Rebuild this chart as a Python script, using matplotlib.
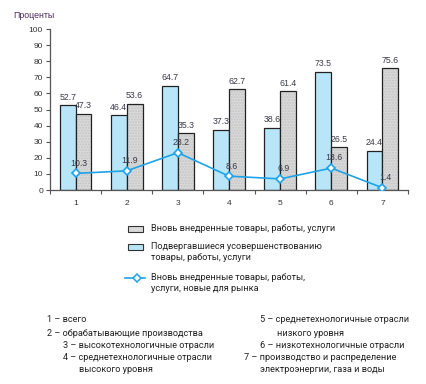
import matplotlib
matplotlib.use("Agg")
import matplotlib.pyplot as plt
from matplotlib.patches import Rectangle
from matplotlib.lines import Line2D
import numpy as np

categories = ["1", "2", "3", "4", "5", "6", "7"]
improved = [52.7, 46.4, 64.7, 37.3, 38.6, 73.5, 24.4]
new_goods = [47.3, 53.6, 35.3, 62.7, 61.4, 26.5, 75.6]
new_market = [10.3, 11.9, 23.2, 8.6, 6.9, 13.6, 1.4]
yticks = list(range(0, 101, 10))

leg_labels = ["Вновь внедренные товары, работы, услуги",
              "Подвергавшиеся усовершенствованию\nтовары, работы, услуги",
              "Вновь внедренные товары, работы,\nуслуги, новые для рынка"]

notes_left = [("1 – всего", 0), ("2 – обрабатывающие производства", 0),
              ("3 – высокотехнологичные отрасли", 1), ("4 – среднетехнологичные отрасли", 1),
              ("высокого уровня", 2)]
notes_right = [("5 – среднетехнологичные отрасли", 1), ("низкого уровня", 2),
               ("6 – низкотехнологичные отрасли", 1), ("7 – производство и распределение", 0),
               ("электроэнергии, газа и воды", 1)]

W, H = 427, 384
fig = plt.figure(figsize=(W/100, H/100), dpi=100)
ax = fig.add_axes([50/W, 1-190/H, 358/W, 161/H])

num_font = "Liberation Sans"
txt_font = "Roboto"
BLUE = "#b8e6f8"
GRAY = "#dadada"
LINEC = "#1ea3e8"
LABC = "#3a3a4a"

x = np.arange(len(categories))
bw = 0.31
ax.bar(x - bw/2, improved, bw, color=BLUE, edgecolor="#222222", linewidth=0.9, zorder=2)
ax.bar(x + bw/2, new_goods, bw, color=GRAY, edgecolor="#c4c4c4", linewidth=0, hatch="......", zorder=2)
ax.bar(x + bw/2, new_goods, bw, color="none", edgecolor="#222222", linewidth=0.9, zorder=3)
ax.plot(x, new_market, color=LINEC, lw=1.2, marker="D", ms=4.5, mfc="white", mec=LINEC, mew=1.2, zorder=4)

for i in range(len(x)):
    ax.text(x[i] - bw/2, improved[i] + 2.2, f"{improved[i]}", ha="center", va="bottom",
            fontsize=6.3, family=num_font, color=LABC, zorder=5)
    ax.text(x[i] + bw/2, new_goods[i] + 2.2, f"{new_goods[i]}", ha="center", va="bottom",
            fontsize=6.3, family=num_font, color=LABC, zorder=5)
    ax.text(x[i] + 0.06, new_market[i] + 3.5, f"{new_market[i]}", ha="center", va="bottom",
            fontsize=6.3, family=num_font, color=LABC, zorder=5)

ax.set_xlim(-0.5, len(x) - 0.5)
ax.set_ylim(0, 100)
ax.set_yticks(yticks)
ax.set_yticklabels([str(t) for t in yticks], fontsize=6, family=num_font, color="#333333")
ax.set_xticks(np.arange(-0.5, len(x), 1.0))
ax.set_xticklabels([])
ax.set_xticks(x, minor=True)
ax.set_xticklabels(categories, minor=True, fontsize=6, family=num_font, color="#333333")
ax.tick_params(axis="x", which="minor", length=0, pad=7)
ax.tick_params(axis="x", which="major", length=3, width=0.8, color="#555555", direction="out")
ax.tick_params(axis="y", length=3, width=0.8, color="#555555", direction="out", pad=2)
for s in ["top", "right"]:
    ax.spines[s].set_visible(False)
for s in ["left", "bottom"]:
    ax.spines[s].set_color("#555555")
    ax.spines[s].set_linewidth(0.9)

fig.text(13/W, 1-16/H, "Проценты", fontsize=6.3, family=num_font, color="#4a2c5e", va="center", ha="left")

def fy(p):
    return 1 - p/H

# legend (manual)
fig.patches.append(Rectangle((128/W, fy(232)), 15/W, 6/H, transform=fig.transFigure,
                             facecolor=GRAY, edgecolor="#333333", lw=0.8))
fig.patches.append(Rectangle((128/W, fy(250)), 15/W, 6/H, transform=fig.transFigure,
                             facecolor=BLUE, edgecolor="#333333", lw=0.8))
fig.lines.append(Line2D([125/W, 145/W], [fy(278), fy(278)], transform=fig.transFigure,
                        color=LINEC, lw=1.2))
fig.lines.append(Line2D([137/W], [fy(278)], transform=fig.transFigure, color=LINEC,
                        marker="D", ms=4, mfc="white", mec=LINEC, mew=1.1))
for lab, yy in zip(leg_labels, [229, 247, 278]):
    fig.text(151/W, fy(yy - 5), lab, fontsize=6.6, family=txt_font, color="#222222",
             va="top", ha="left", linespacing=1.35)

ys = [320, 333, 346, 357, 369]
lx = {0: 47, 1: 63, 2: 79}
rx = {0: 244, 1: 260, 2: 277}
for (t, lv), yy in zip(notes_left, ys):
    fig.text(lx[lv]/W, fy(yy), t, fontsize=6.6, family=txt_font, color="#222222", va="center", ha="left")
for (t, lv), yy in zip(notes_right, ys):
    fig.text(rx[lv]/W, fy(yy), t, fontsize=6.6, family=txt_font, color="#222222", va="center", ha="left")

fig.savefig("out.png", dpi=100)
